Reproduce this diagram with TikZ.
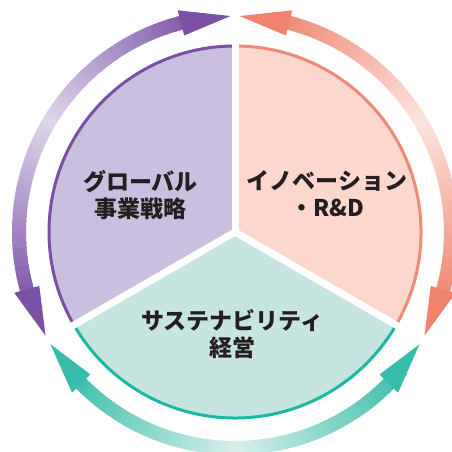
\documentclass[tikz,border=0pt]{standalone}
\usepackage{fontspec}
\newfontfamily\jp{Noto Sans CJK JP}
\definecolor{pdark}{HTML}{7B51A6}
\definecolor{plight}{HTML}{DED6EB}
\definecolor{pfill}{HTML}{CBBFDF}
\definecolor{pline}{HTML}{7A50A5}
\definecolor{rdark}{HTML}{F0836E}
\definecolor{rlight}{HTML}{FCE4DD}
\definecolor{rfill}{HTML}{FBD7CC}
\definecolor{rline}{HTML}{F08A78}
\definecolor{tdark}{HTML}{38BDAA}
\definecolor{tlight}{HTML}{D8EFEB}
\definecolor{tfill}{HTML}{C6E5E0}
\definecolor{tline}{HTML}{1BB8A3}
\definecolor{txt}{HTML}{231F20}
\newcommand\gradband[4]{% start angle, end angle, dark, light
  \foreach \i in {0,...,79}{
    \pgfmathsetmacro\aa{#1+(#2-#1)*\i/80}
    \pgfmathsetmacro\ab{#1+(#2-#1)*(\i+1.4)/80}
    \pgfmathtruncatemacro\pp{abs(2*(\i+0.5)/80-1)*100}
    \draw[line width=14, color=#3!\pp!#4] (\aa:216) arc (\aa:\ab:216);
  }}
\newcommand\arrhead[3]{% tip angle, back angle, colour
  \fill[#3] (#1:216) -- (#2:229) -- (#2:203) -- cycle;}
\tikzset{lbl/.style={font=\jp\bfseries\fontsize{23}{27}\selectfont, text=txt, align=center, inner sep=0pt}}
\begin{document}
\begin{tikzpicture}[x=1pt,y=1pt]
\useasboundingbox (0,0) rectangle (452,452);
\begin{scope}[shift={(235,220)}]
  \coordinate (c) at (0,0);
  % sectors
  \fill[pfill] (c) -- (90:187) arc (90:210:187) -- cycle;
  \fill[rfill] (c) -- (-30:187) arc (-30:90:187) -- cycle;
  \fill[tfill] (c) -- (210:187) arc (210:330:187) -- cycle;
  \draw[pline, line width=3] (90:186) arc (90:210:186);
  \draw[rline, line width=3] (-30:186) arc (-30:90:186);
  \draw[tline, line width=3] (210:186) arc (210:330:186);
  \coordinate (e1) at (90:195);
  \coordinate (e2) at (210:195);
  \coordinate (e3) at (330:195);
  \draw[white, line width=7] (c) -- (e1);
  \draw[white, line width=7] (c) -- (e2);
  \draw[white, line width=7] (c) -- (e3);
  % arrow bands
  \gradband{100}{199}{pdark}{plight}
  \gradband{-19}{80}{rdark}{rlight}
  \gradband{221}{320}{tdark}{tlight}
  \arrhead{91.2}{104.5}{pdark}
  \arrhead{208.7}{195.4}{pdark}
  \arrhead{88.8}{75.5}{rdark}
  \arrhead{-28.7}{-15.4}{rdark}
  \arrhead{211.3}{224.6}{tdark}
  \arrhead{328.7}{315.4}{tdark}
\end{scope}
\node[lbl] (g) at (140.5,257) {グローバル\\事業戦略};
\node[lbl] (i) at (327,258) {イノベーション\\・R\&D};
\node[lbl] (s) at (232.5,117.5) {サステナビリティ\\経営};
\end{tikzpicture}
\end{document}
